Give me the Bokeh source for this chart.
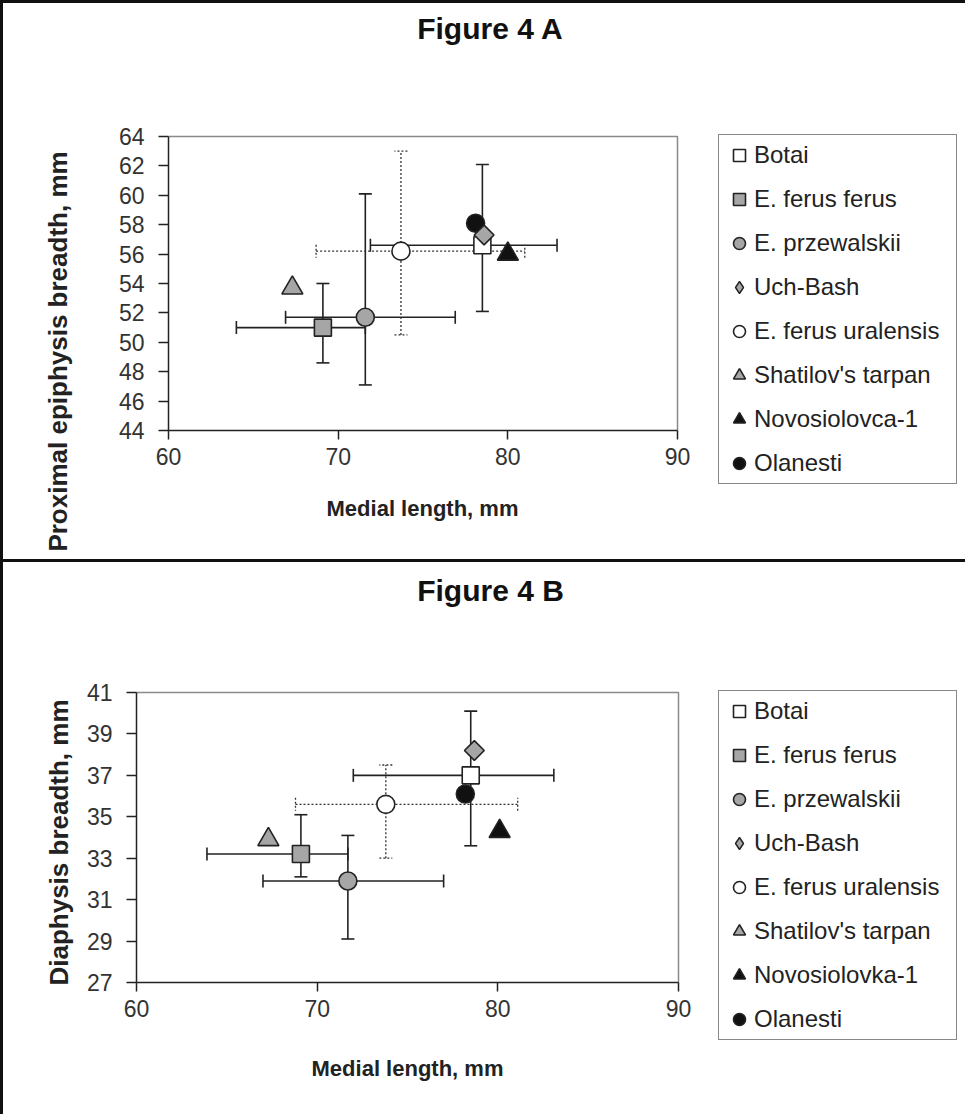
import math
from bokeh.plotting import figure
from bokeh.models import (ColumnDataSource, Whisker, TeeHead, Legend, LegendItem,
                          Range1d, FixedTicker, Label)
from bokeh.layouts import column
from bokeh.embed import file_html
from bokeh.resources import INLINE

# ---------------- data ----------------
names_a = ["Botai", "E. ferus ferus", "E. przewalskii", "Uch-Bash", "E. ferus uralensis",
           "Shatilov's tarpan", "Novosiolovca-1", "Olanesti"]
names_b = ["Botai", "E. ferus ferus", "E. przewalskii", "Uch-Bash", "E. ferus uralensis",
           "Shatilov's tarpan", "Novosiolovka-1", "Olanesti"]

a_x = [78.5, 69.1, 71.6, 78.6, 73.7, 67.3, 80.0, 78.1]
a_y = [56.6, 51.0, 51.7, 57.3, 56.2, 53.7, 56.0, 58.1]
b_x = [78.5, 69.1, 71.7, 78.7, 73.8, 67.3, 80.1, 78.2]
b_y = [37.0, 33.2, 31.9, 38.2, 35.6, 33.9, 34.3, 36.1]

# error bars (Botai, E. ferus ferus, E. przewalskii, E. ferus uralensis)
err_idx = [0, 1, 2, 4]
a_xlo = [71.9, 64.0, 66.9, 68.7]
a_xhi = [82.9, 71.6, 76.9, 81.0]
a_ylo = [52.1, 48.6, 47.1, 50.5]
a_yhi = [62.1, 54.0, 60.1, 63.0]
b_xlo = [72.0, 63.9, 67.0, 68.8]
b_xhi = [83.1, 71.7, 77.0, 81.1]
b_ylo = [33.6, 32.1, 29.1, 33.0]
b_yhi = [40.1, 35.1, 34.1, 37.5]

x_ticks = [60, 70, 80, 90]
a_y_ticks = [44, 46, 48, 50, 52, 54, 56, 58, 60, 62, 64]
b_y_ticks = [27, 29, 31, 33, 35, 37, 39, 41]

# ---------------- styles ----------------
markers = ["square", "square", "circle", "square", "circle", "triangle", "triangle", "circle"]
legend_markers = ["square", "square", "circle", "diamond", "circle", "triangle", "triangle", "circle"]
angles = [0, 0, 0, math.pi / 4, 0, 0, 0, 0]
fills = ["white", "#a6a6a6", "#a6a6a6", "#a6a6a6", "white", "#a6a6a6", "#111111", "#111111"]
sizes = [17, 17, 18, 14, 18, 21, 21, 18]
draw_order = [7, 6, 5, 4, 2, 1, 0, 3]
FONT = "Liberation Sans"
INK = "#222222"
W = 965


def make_panel(title, xs, ys, names, xlo, xhi, ylo, yhi, yticks, ylabel, height,
               box, title_xy, xlab_xy, ylab_xy, legend_left, legend_top, shadow):
    # box: pixel position of the plot area (left, right, top, bottom) inside the panel
    bl, br, bt, bb = box
    x0, x1 = x_ticks[0], x_ticks[-1]
    y0, y1 = yticks[0], yticks[-1]
    kx = (br - bl) / (x1 - x0)
    ky = (bb - bt) / (y1 - y0)

    def dx(px):
        return x0 + (px - bl) / kx

    def dy(py):
        return y0 + (bb - py) / ky

    p = figure(width=W, height=height, output_backend="svg", toolbar_location=None,
               x_range=Range1d(dx(0), dx(W)), y_range=Range1d(dy(height), dy(0)),
               min_border_left=0, min_border_right=0, min_border_top=0,
               min_border_bottom=0, background_fill_color=None,
               border_fill_color=None, tools="")
    p.styles = {"background-color": "white", "box-shadow": shadow}
    p.grid.visible = False
    p.outline_line_color = None

    p.xaxis.ticker = FixedTicker(ticks=x_ticks)
    p.yaxis.ticker = FixedTicker(ticks=yticks)
    p.xaxis.fixed_location = y0
    p.yaxis.fixed_location = x0
    p.xaxis.bounds = (x0, x1)
    p.yaxis.bounds = (y0, y1)
    for ax in (p.xaxis[0], p.yaxis[0]):
        ax.axis_line_color = INK
        ax.axis_line_width = 1.5
        ax.major_tick_line_color = INK
        ax.major_tick_line_width = 1.5
        ax.major_tick_in = 0
        ax.minor_tick_line_color = None
        ax.major_label_text_font = FONT
        ax.major_label_text_font_size = "23px"
        ax.major_label_text_color = "#333333"
    p.xaxis.major_tick_out = 9
    p.xaxis.major_label_standoff = 8
    p.yaxis.major_tick_out = 10
    p.yaxis.major_label_standoff = 14

    # plot-area border (top and right), grey as in the original
    p.line([x0, x1, x1], [y1, y1, y0], line_color="#8a8a8a", line_width=1.5)

    # error bars
    ex = [xs[i] for i in err_idx]
    ey = [ys[i] for i in err_idx]
    for k in range(len(err_idx)):
        dotted = names[err_idx[k]] == "E. ferus uralensis"
        dash = "2 2" if dotted else "solid"
        w = 1.3 if dotted else 1.6
        col = "#333333" if dotted else INK
        vsrc = ColumnDataSource(dict(base=[ex[k]], lower=[ylo[k]], upper=[yhi[k]]))
        hsrc = ColumnDataSource(dict(base=[ey[k]], lower=[xlo[k]], upper=[xhi[k]]))
        for src, dim in ((vsrc, "height"), (hsrc, "width")):
            wk = Whisker(source=src, base="base", lower="lower", upper="upper",
                         dimension=dim, line_color=col, line_width=w, line_dash=dash,
                         upper_head=TeeHead(size=13, line_color=col, line_width=w, line_dash=dash),
                         lower_head=TeeHead(size=13, line_color=col, line_width=w, line_dash=dash),
                         level="underlay")
            p.add_layout(wk)

    renderers = {}
    for i in draw_order:
        r = p.scatter([xs[i]], [ys[i]], marker=markers[i], size=sizes[i], angle=angles[i],
                      fill_color=fills[i], line_color="#222222", line_width=1.6)
        renderers[i] = r

    items = []
    for i in range(len(names)):
        rend = renderers[i]
        if legend_markers[i] != markers[i]:
            # legend-only swatch (NaN point is never drawn in the plot)
            rend = p.scatter(x=[math.nan], y=[math.nan], marker=legend_markers[i],
                             size=sizes[i], fill_color=fills[i], line_color="#222222",
                             line_width=1.4)
        items.append(LegendItem(label=names[i], renderers=[rend]))
    legend_h = 5 + 8 * 30 + 7 * 14 + 5
    legend = Legend(items=items,
                    location=(legend_left, height - (legend_top + legend_h)),
                    label_text_font=FONT, label_text_font_size="24px",
                    label_text_color="#222222", glyph_width=30, glyph_height=30,
                    label_height=30, label_width=197, label_standoff=0, spacing=14,
                    padding=5, margin=0, border_line_color="#111111",
                    border_line_width=1.5, background_fill_color="white",
                    background_fill_alpha=1)
    p.add_layout(legend, "center")

    p.add_layout(Label(x=dx(title_xy[0]), y=dy(title_xy[1]), text=title,
                       text_align="center", text_baseline="middle", text_font=FONT,
                       text_font_size="30px", text_font_style="bold", text_color="#111111"))
    p.add_layout(Label(x=dx(xlab_xy[0]), y=dy(xlab_xy[1]), text="Medial length, mm",
                       text_align="center", text_baseline="middle", text_font=FONT,
                       text_font_size="22px", text_font_style="bold", text_color="#222222"))
    p.add_layout(Label(x=dx(ylab_xy[0]), y=dy(ylab_xy[1]), text=ylabel, angle=math.pi / 2,
                       text_align="center", text_baseline="middle", text_font=FONT,
                       text_font_size="26px", text_font_style="bold", text_color="#222222"))
    return p


pA = make_panel("Figure 4 A", a_x, a_y, names_a, a_xlo, a_xhi, a_ylo, a_yhi, a_y_ticks,
                "Proximal epiphysis breadth, mm", 562,
                (168, 677, 136, 430), (490, 28), (422, 508), (57, 351), 718, 136,
                "inset 3px 0 0 #111, inset 0 3px 0 #111, inset 0 -3px 0 #111")
pB = make_panel("Figure 4 B", b_x, b_y, names_b, b_xlo, b_xhi, b_ylo, b_yhi, b_y_ticks,
                "Diaphysis breadth, mm", 552,
                (136, 678, 130, 420), (490, 28), (407, 506), (58, 280), 718, 130,
                "inset 3px 0 0 #111")

layout = column(pA, pB, spacing=0)
open("out.html", "w").write(file_html(layout, INLINE))
